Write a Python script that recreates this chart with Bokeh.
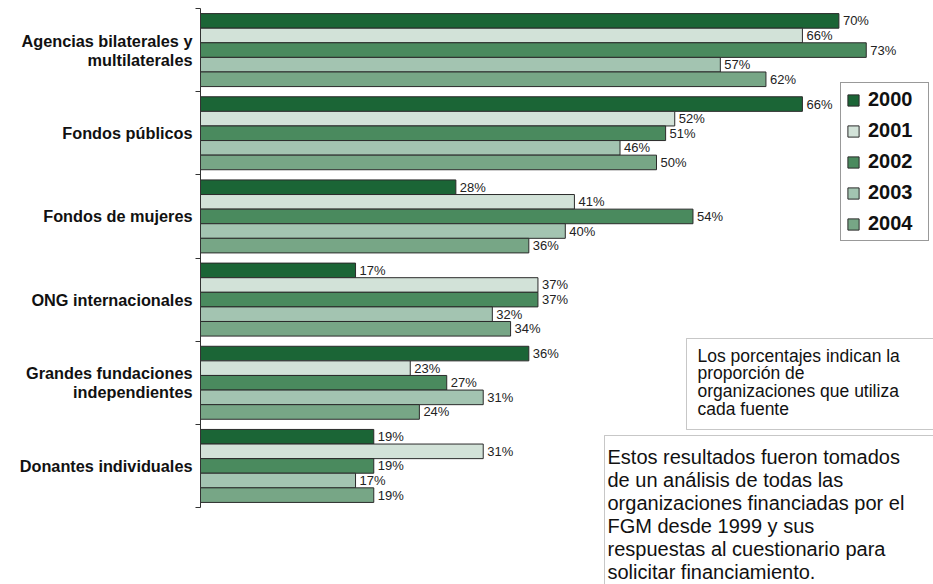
from bokeh.plotting import figure
from bokeh.models import (Range1d, FixedTicker, Legend, LegendItem, BoxAnnotation,
                          Label, ColumnDataSource)
from bokeh.core.properties import value
from bokeh.embed import file_html
from bokeh.resources import INLINE

categories = ["Agencias bilaterales y\nmultilaterales", "Fondos públicos", "Fondos de mujeres",
              "ONG internacionales", "Grandes fundaciones\nindependientes", "Donantes individuales"]
years = ["2000", "2001", "2002", "2003", "2004"]
v2000 = [70, 66, 28, 17, 36, 19]
v2001 = [66, 52, 41, 37, 23, 31]
v2002 = [73, 51, 54, 37, 27, 19]
v2003 = [57, 46, 40, 32, 31, 17]
v2004 = [62, 50, 36, 34, 24, 19]
series = [v2000, v2001, v2002, v2003, v2004]
colors = ["#1b6536", "#d2e2d8", "#4a8a5e", "#a3c4b1", "#77a686"]

note1 = "Los porcentajes indican la\nproporción de\norganizaciones que utiliza\ncada fuente"
note2 = ("Estos resultados fueron tomados\nde un análisis de todas las\n"
         "organizaciones financiadas por el\nFGM desde 1999 y sus\n"
         "respuestas al cuestionario para\nsolicitar financiamiento.")

W, H = 933, 584
LEFT = 200
TOP = 8
PX_PER_PCT = 9.12
PX_PER_CAT = 83.17
FONT = "Liberation Sans"

p = figure(width=W, height=H, output_backend="svg", toolbar_location=None,
           x_range=Range1d(0, (W - LEFT) / PX_PER_PCT),
           y_range=Range1d((H - TOP) / PX_PER_CAT, -TOP / PX_PER_CAT),
           x_axis_location=None, min_border_left=LEFT, min_border_right=0,
           min_border_top=0, min_border_bottom=0)
p.outline_line_color = None
p.xgrid.visible = False
p.ygrid.visible = False
p.background_fill_color = "white"
p.border_fill_color = "white"

bar_h = 0.1755
n = len(categories)
renderers = []
for j, (yr, vals, col) in enumerate(zip(years, series, colors)):
    ys = [i + 0.5 + (j - 2) * bar_h for i in range(n)]
    src = ColumnDataSource(dict(y=ys, right=vals, lab=[f"{v}%" for v in vals]))
    r = p.hbar(y="y", right="right", left=0, height=bar_h, source=src,
               fill_color=col, line_color="#2b2b2b", line_width=1)
    renderers.append(r)
    p.text(x="right", y="y", text="lab", source=src, x_offset=4,
           text_baseline="middle", text_align="left", text_font_size="13px",
           text_font=value(FONT), text_color="#222222")

ax = p.yaxis[0]
ax.ticker = FixedTicker(ticks=[i + 0.5 for i in range(n)], minor_ticks=list(range(n + 1)))
ax.major_label_overrides = {i + 0.5: c for i, c in enumerate(categories)}
ax.bounds = (0, n)
ax.axis_line_color = "#333333"
ax.minor_tick_line_color = "#333333"
ax.minor_tick_out = 5
ax.minor_tick_in = 0
ax.major_tick_out = 0
ax.major_tick_in = 0
ax.major_tick_line_color = None
ax.major_label_standoff = 3
ax.major_label_text_font = FONT
ax.major_label_text_font_style = "bold"
ax.major_label_text_font_size = "16.3px"
ax.major_label_text_color = "#111111"
ax.major_label_text_line_height = 1.06

legend = Legend(items=[LegendItem(label=yr, renderers=[r]) for yr, r in zip(years, renderers)],
                location=(640, H - 241), label_text_font=FONT, label_text_font_size="20px",
                label_text_font_style="bold", label_text_color="#111111",
                glyph_width=14, glyph_height=14, label_standoff=8, label_width=55,
                spacing=8, padding=5, margin=0, border_line_color="#333333",
                border_line_width=1, background_fill_color="white",
                background_fill_alpha=1.0)
p.add_layout(legend)


def px_x(img_x):
    return (img_x - LEFT) / PX_PER_PCT


def px_y(img_y):
    return (img_y - TOP) / PX_PER_CAT


p.add_layout(BoxAnnotation(left=px_x(686), right=200, top=px_y(338), bottom=px_y(429),
                           fill_color="white", fill_alpha=1.0, line_color="#444444",
                           line_width=1, level="overlay"))
p.add_layout(BoxAnnotation(left=px_x(604), right=200, top=px_y(435), bottom=20,
                           fill_color="white", fill_alpha=1.0, line_color="#444444",
                           line_width=1, level="overlay"))
p.add_layout(Label(x=px_x(697), y=px_y(345), text=note1, text_font=FONT,
                   text_font_size="17.5px", text_baseline="top", text_align="left",
                   text_line_height=0.895, text_color="#111111", level="overlay"))
p.add_layout(Label(x=px_x(607), y=px_y(445), text=note2, text_font=FONT,
                   text_font_size="20px", text_baseline="top", text_align="left",
                   text_line_height=1.05, text_color="#111111", level="overlay"))

open("out.html", "w").write(file_html(p, INLINE))
